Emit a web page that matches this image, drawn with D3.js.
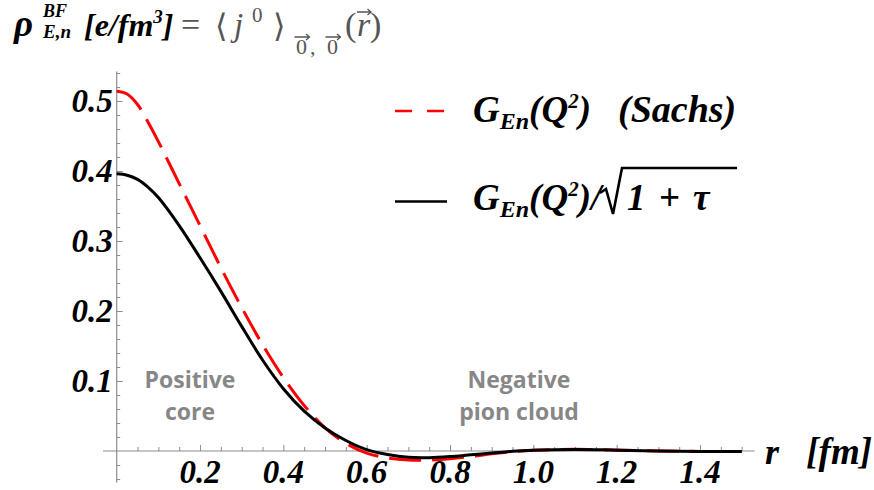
<!DOCTYPE html>
<html>
<head>
<meta charset="utf-8">
<script src="https://cdn.jsdelivr.net/npm/d3@7"></script>
<style>
  html, body { margin: 0; padding: 0; background: #fff; }
  svg { display: block; }
</style>
</head>
<body>
<svg id="chart" width="874" height="490"></svg>
<script>
// Radial grid (fm)
const radii = [0, 0.025, 0.05, 0.075, 0.10, 0.15, 0.20, 0.25, 0.30, 0.35, 0.40, 0.45, 0.50, 0.55, 0.60,
               0.65, 0.70, 0.75, 0.80, 0.85, 0.90, 0.95, 1.00, 1.05, 1.10, 1.15, 1.20, 1.30, 1.40, 1.50];

// Charge density with the Sachs form factor (e/fm^3)
const rhoSachs = [0.514, 0.510, 0.495, 0.470, 0.442, 0.382, 0.322, 0.262, 0.205, 0.152, 0.105, 0.065, 0.033, 0.011, -0.003,
                  -0.010, -0.013, -0.013, -0.011, -0.008, -0.004, -0.001, 0.001, 0.002, 0.0025, 0.002, 0.0015, 0.0, -0.0006, -0.0008];

// Charge density with G_En / sqrt(1 + tau) (e/fm^3)
const rhoScaled = [0.396, 0.394, 0.388, 0.377, 0.362, 0.322, 0.276, 0.228, 0.178, 0.130, 0.089, 0.057, 0.033, 0.015, 0.002,
                   -0.005, -0.009, -0.0095, -0.008, -0.0055, -0.003, -0.0005, 0.001, 0.0018, 0.002, 0.0018, 0.0012, 0.0, -0.0006, -0.0008];

// Axis ticks
const xMajorTicks = [0.2, 0.4, 0.6, 0.8, 1.0, 1.2, 1.4];
const xTickLabels = ["0.2", "0.4", "0.6", "0.8", "1.0", "1.2", "1.4"];
const xMinorTicks = d3.range(1, 31).map(i => +(i * 0.05).toFixed(2)).filter(v => !xMajorTicks.some(m => Math.abs(m - v) < 1e-9));
const yMajorTicks = [0.1, 0.2, 0.3, 0.4, 0.5];
const yTickLabels = ["0.1", "0.2", "0.3", "0.4", "0.5"];
const yMinorTicks = [-0.04, -0.02, 0.02, 0.04, 0.06, 0.08, 0.12, 0.14, 0.16, 0.18, 0.22, 0.24, 0.26, 0.28,
                     0.32, 0.34, 0.36, 0.38, 0.42, 0.44, 0.46, 0.48, 0.52, 0.54];

const svg = d3.select("#chart");

const x = d3.scaleLinear().domain([0, 1.5]).range([116.7, 741.7]);
const y = d3.scaleLinear().domain([0, 0.5]).range([451, 101]);

const axisColor = "#8c8c8c";
const serif = "'Liberation Serif', 'Times New Roman', serif";
const grayText = "#555";

// Axis lines
svg.append("line")
  .attr("x1", x(-0.033)).attr("x2", x(1.531))
  .attr("y1", y(0)).attr("y2", y(0))
  .attr("stroke", axisColor).attr("stroke-width", 1.2);
svg.append("line")
  .attr("x1", x(0)).attr("x2", x(0))
  .attr("y1", y(-0.045)).attr("y2", y(0.542))
  .attr("stroke", axisColor).attr("stroke-width", 1.2);

// Tick marks
function tickGroup(axis, tr) {
  const g = svg.append("g").attr("transform", tr).call(axis);
  g.select(".domain").remove();
  g.selectAll(".tick line").attr("stroke", axisColor).attr("stroke-width", 1);
  return g;
}
tickGroup(d3.axisBottom(x).tickValues(xMinorTicks).tickSize(-4).tickFormat(""), `translate(0,${y(0)})`);
tickGroup(d3.axisBottom(x).tickValues(xMajorTicks).tickSize(-6).tickFormat(""), `translate(0,${y(0)})`);
tickGroup(d3.axisLeft(y).tickValues(yMinorTicks).tickSize(-3.5).tickFormat(""), `translate(${x(0)},0)`);
tickGroup(d3.axisLeft(y).tickValues(yMajorTicks).tickSize(-6).tickFormat(""), `translate(${x(0)},0)`);

const boldItalic = sel => sel
  .style("font-family", serif)
  .style("font-weight", "bold")
  .style("font-style", "italic");

// Tick labels
svg.append("g").selectAll("text")
  .data(xMajorTicks)
  .join("text")
  .attr("x", d => x(d))
  .attr("y", 483)
  .attr("text-anchor", "middle")
  .call(boldItalic)
  .style("font-size", "33px")
  .attr("fill", "#000")
  .text((d, i) => xTickLabels[i]);

svg.append("g").selectAll("text")
  .data(yMajorTicks)
  .join("text")
  .attr("x", x(0) - 4)
  .attr("y", d => y(d) + 11)
  .attr("text-anchor", "end")
  .call(boldItalic)
  .style("font-size", "33px")
  .attr("fill", "#000")
  .text((d, i) => yTickLabels[i]);

// Curves
const line = d3.line()
  .x(d => x(d[0]))
  .y(d => y(d[1]))
  .curve(d3.curveCatmullRom.alpha(0.5));

svg.append("path")
  .datum(radii.map((r, i) => [r, rhoSachs[i]]))
  .attr("d", line)
  .attr("fill", "none")
  .attr("stroke", "#ff0000")
  .attr("stroke-width", 3)
  .attr("stroke-dasharray", "32,11");

svg.append("path")
  .datum(radii.map((r, i) => [r, rhoScaled[i]]))
  .attr("d", line)
  .attr("fill", "none")
  .attr("stroke", "#000")
  .attr("stroke-width", 3);

// Axis label  r [fm]
svg.append("text").attr("x", 765).attr("y", 464).call(boldItalic).style("font-size", "36px").text("r");
svg.append("text").attr("x", 872).attr("y", 464).attr("text-anchor", "end").call(boldItalic).style("font-size", "37px").text("[fm]");

// Title, left-hand side
const t = (xp, yp, size, str) => svg.append("text").attr("x", xp).attr("y", yp)
  .style("font-family", serif).style("font-size", size + "px").text(str);
t(14, 36, 37, "ρ").call(boldItalic);
t(43, 17, 18, "BF").call(boldItalic);
t(43, 38, 19, "E,n").call(boldItalic);
const unit = t(84, 36, 32, "").call(boldItalic);
unit.append("tspan").text("[e/fm");
unit.append("tspan").attr("dy", -13).style("font-size", "19px").text("3");
unit.append("tspan").attr("dy", 13).text("]");

// Title, right-hand side (matrix element of the current)
t(181, 36, 34, "=").attr("fill", grayText);
t(215, 37, 32, "⟨").attr("fill", grayText).style("font-family", "'DejaVu Serif', serif").style("font-weight", "200");
t(234, 36, 33, "j").attr("fill", grayText).style("font-style", "italic");
t(252, 22, 21, "0").attr("fill", grayText);
t(273, 37, 32, "⟩").attr("fill", grayText).style("font-family", "'DejaVu Serif', serif").style("font-weight", "200");
t(296, 54, 22, "0").attr("fill", grayText);
t(310, 54, 22, ",").attr("fill", grayText);
t(327, 54, 22, "0").attr("fill", grayText);
t(345, 36, 34, "(").attr("fill", grayText);
t(357, 36, 34, "r").attr("fill", grayText).style("font-style", "italic");
t(370, 36, 34, ")").attr("fill", grayText);

// Vector arrows over 0, 0 and r
const arrow = (cx, cy, w) => svg.append("path")
  .attr("d", `M${cx - w / 2},${cy} H${cx + w / 2} M${cx + w / 2 - 3.5},${cy - 3} L${cx + w / 2},${cy} L${cx + w / 2 - 3.5},${cy + 3}`)
  .attr("fill", "none").attr("stroke", grayText).attr("stroke-width", 1.3);
arrow(302, 37, 15);
arrow(333, 37, 15);
arrow(364, 12, 14);

// Legend
svg.append("line")
  .attr("x1", 395).attr("x2", 447).attr("y1", 111).attr("y2", 111)
  .attr("stroke", "#ff0000").attr("stroke-width", 2.5)
  .attr("stroke-dasharray", "17,15");
svg.append("line")
  .attr("x1", 395).attr("x2", 447).attr("y1", 201.5).attr("y2", 201.5)
  .attr("stroke", "#000").attr("stroke-width", 2.5);

function formLabel(yp) {
  const g = svg.append("text").attr("x", 473).attr("y", yp).call(boldItalic).style("font-size", "37px");
  g.append("tspan").text("G");
  g.append("tspan").attr("dy", 7).style("font-size", "24px").text("En");
  g.append("tspan").attr("dy", -7).text("(Q");
  g.append("tspan").attr("dy", -14).style("font-size", "21px").text("2");
  g.append("tspan").attr("dy", 14).text(")");
  return g;
}
formLabel(122);
svg.append("text").attr("x", 618).attr("y", 122).call(boldItalic).style("font-size", "38px").text("(Sachs)");

const lg2 = formLabel(210);
lg2.append("tspan").text("/");
// radical sign with its bar
svg.append("path")
  .attr("d", "M600,193 L606,189 L613,214 L622,168 H737")
  .attr("fill", "none").attr("stroke", "#000").attr("stroke-width", 2.6).attr("stroke-linejoin", "miter");
svg.append("text").attr("x", 627).attr("y", 210).call(boldItalic).style("font-size", "37px")
  .style("word-spacing", "4px").text("1 + τ");

// Region annotations
const annoStyle = sel => sel
  .attr("text-anchor", "middle")
  .style("font-family", "'Open Sans', 'DejaVu Sans', sans-serif")
  .style("font-weight", "bold")
  .style("font-size", "23px")
  .attr("fill", "#878787");
svg.append("text").attr("x", 190).attr("y", 388).call(annoStyle).text("Positive");
svg.append("text").attr("x", 190).attr("y", 420).call(annoStyle).text("core");
svg.append("text").attr("x", 519).attr("y", 388).call(annoStyle).text("Negative");
svg.append("text").attr("x", 519).attr("y", 420).call(annoStyle).text("pion cloud");
</script>
</body>
</html>
